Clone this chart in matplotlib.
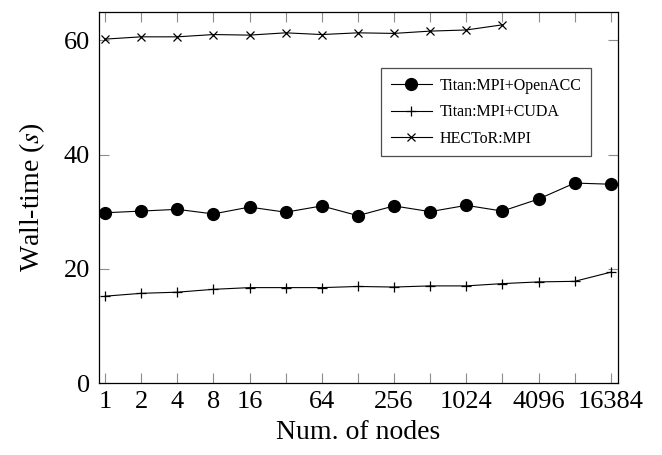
import matplotlib
matplotlib.use("Agg")
import matplotlib.pyplot as plt

plt.rcParams["font.family"] = ["Liberation Serif", "DejaVu Serif"]
plt.rcParams["mathtext.fontset"] = "stix"

# data
nodes = [1, 2, 4, 8, 16, 32, 64, 128, 256, 512, 1024, 2048, 4096, 8192, 16384]
openacc = [29.8, 30.1, 30.4, 29.6, 30.8, 29.9, 31.0, 29.3, 31.0, 30.0, 31.1, 30.1, 32.2, 35.0, 34.8]
cuda = [15.2, 15.7, 15.9, 16.4, 16.7, 16.7, 16.7, 16.9, 16.8, 17.0, 17.0, 17.4, 17.7, 17.8, 19.4]
hector_nodes = [1, 2, 4, 8, 16, 32, 64, 128, 256, 512, 1024, 2048]
hector = [60.2, 60.6, 60.6, 61.0, 60.9, 61.3, 61.0, 61.3, 61.2, 61.6, 61.8, 62.7]

xtick_labels = ["1", "2", "4", "8", "16", "", "64", "", "256", "", "1024", "", "4096", "", "16384"]
yticks = [0, 20, 40, 60]

fig = plt.figure(figsize=(6.62, 4.55), dpi=100)
ax = fig.add_axes([0.1488, 0.1582, 0.7847, 0.8161])

ax.plot(nodes, openacc, color="black", lw=0.8, marker="o", markersize=8.5,
        label="Titan:MPI+OpenACC")
ax.plot(nodes, cuda, color="black", lw=0.8, marker="+", markersize=7,
        markeredgewidth=0.9, label="Titan:MPI+CUDA")
ax.plot(hector_nodes, hector, color="black", lw=0.8, marker="x", markersize=6,
        markeredgewidth=0.9, label="HECToR:MPI")

ax.set_xscale("log", base=2)
ax.set_xlim(2 ** -0.18, 2 ** 14.2)
ax.set_ylim(0, 65)
ax.set_xticks(nodes)
ax.set_xticklabels(xtick_labels)
ax.minorticks_off()
ax.set_yticks(yticks)

ax.tick_params(direction="in", length=7.5, width=0.8, color="0.55",
               top=True, right=True, labelsize=19, pad=6)
for s in ax.spines.values():
    s.set_linewidth(0.9)

ax.set_xlabel("Num. of nodes", fontsize=20, labelpad=5)
ax.set_ylabel("Wall-time ($s$)", fontsize=20, labelpad=12)

leg = ax.legend(loc="upper right", bbox_to_anchor=(0.949, 0.8475), fontsize=11.5,
                frameon=True, fancybox=False, edgecolor="0.3", framealpha=1,
                handlelength=2.6, labelspacing=0.65, borderpad=0.6,
                handletextpad=0.5, borderaxespad=0)
leg.get_frame().set_linewidth(0.9)

fig.savefig("out.png", dpi=100)
